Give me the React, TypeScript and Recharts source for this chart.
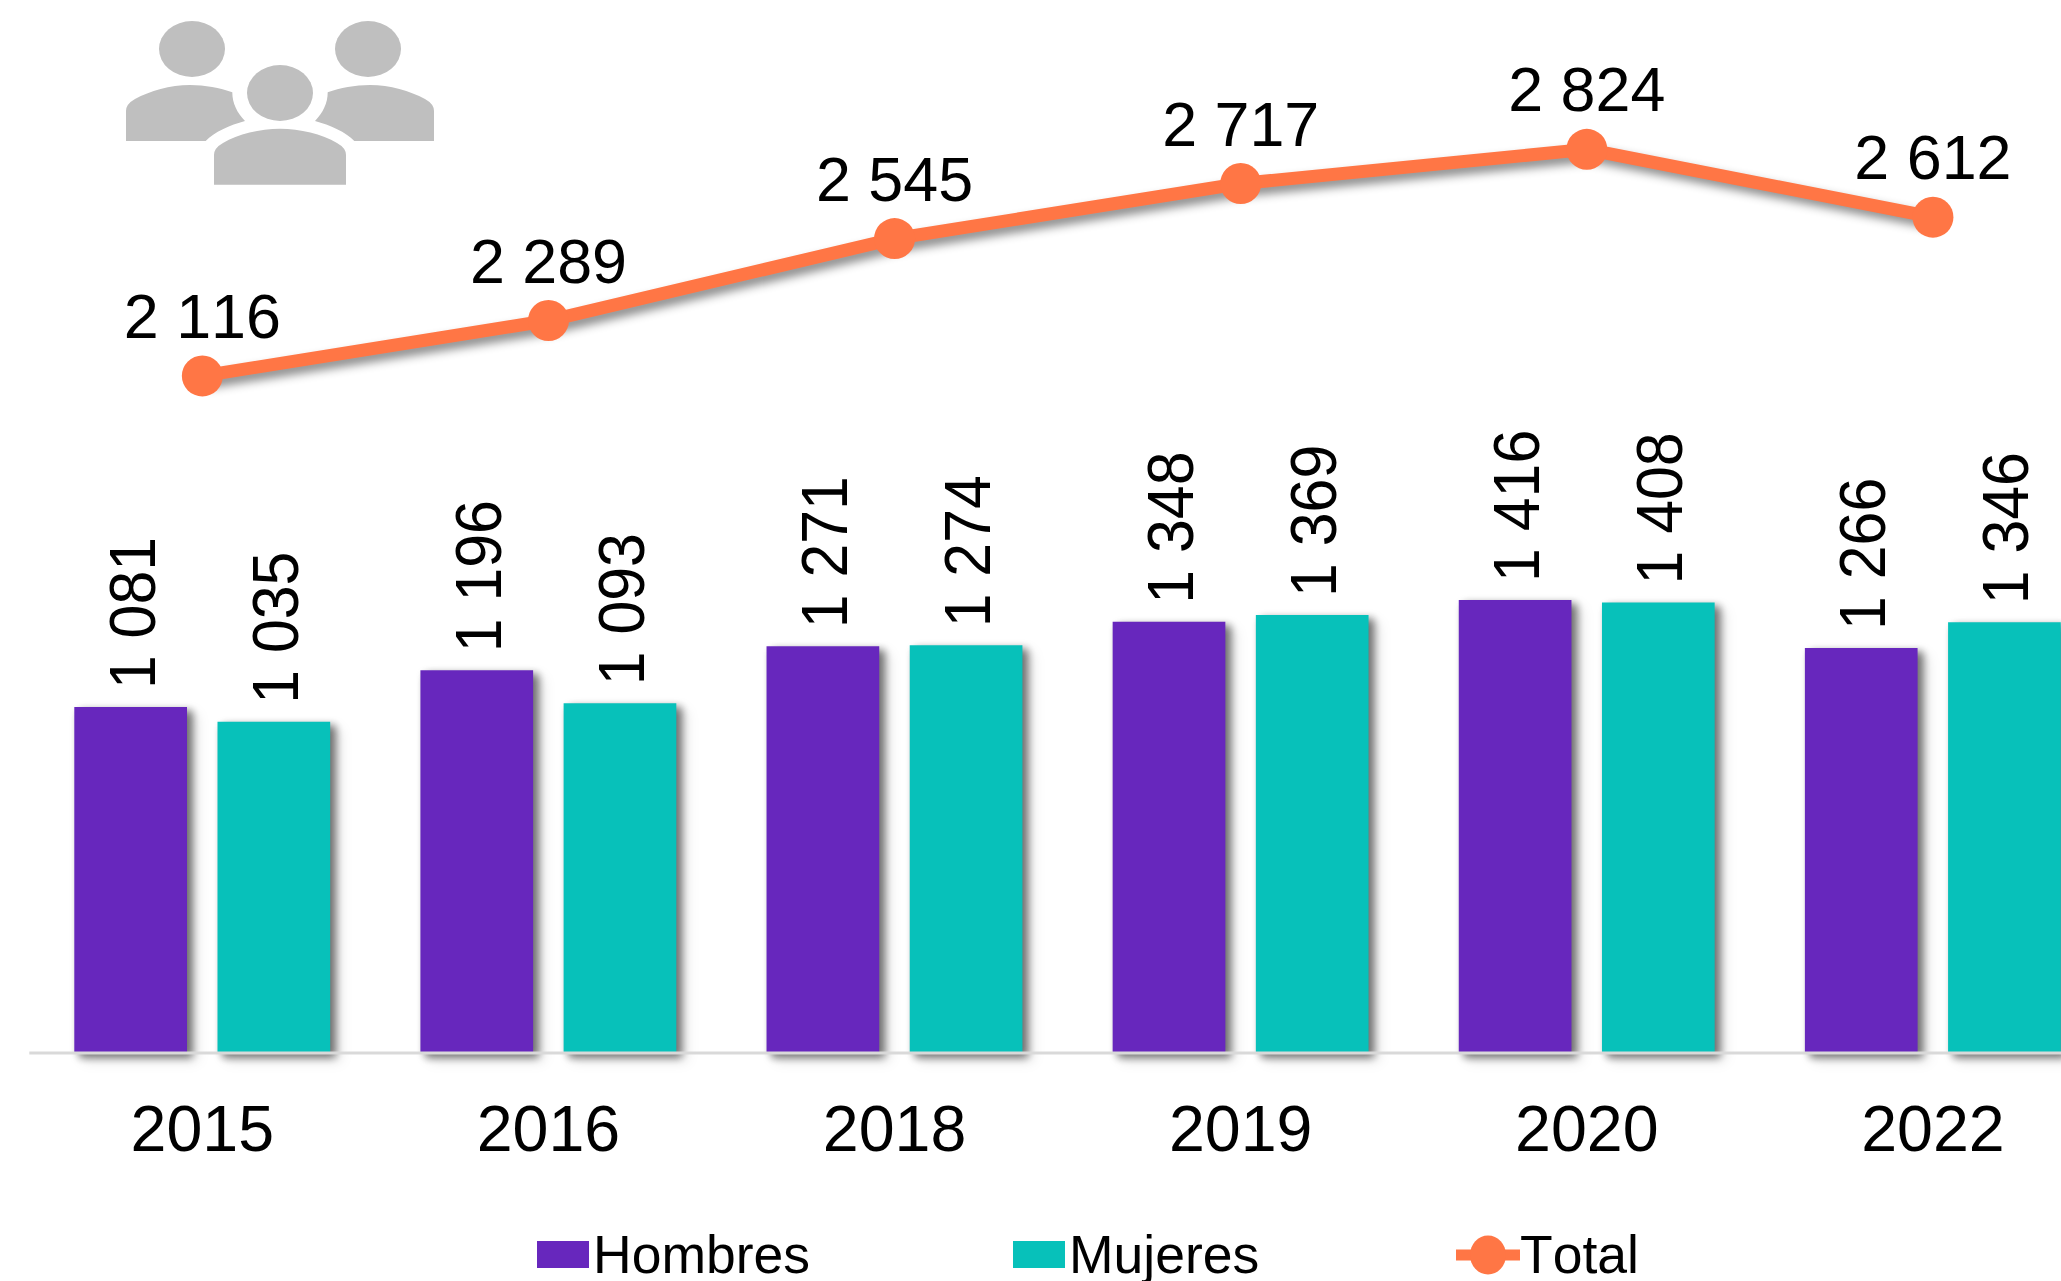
import {
  Bar,
  ComposedChart,
  LabelList,
  Legend,
  Line,
  XAxis,
  YAxis,
} from "recharts";

const years = ["2015", "2016", "2018", "2019", "2020", "2022"];
const hombres = [1081, 1196, 1271, 1348, 1416, 1266];
const mujeres = [1035, 1093, 1274, 1369, 1408, 1346];
const total = [2116, 2289, 2545, 2717, 2824, 2612];

const chartData = years.map((year, i) => ({
  year,
  Hombres: hombres[i],
  Mujeres: mujeres[i],
  Total: total[i],
}));

const FONT = '"Liberation Sans", Arial, sans-serif';
const PURPLE = "#6727BD";
const TEAL = "#07C1BA";
const ORANGE = "#FF7645";
const legendLefts = [537, 1013, 1456];

const fmt = (v: number) => String(v).replace(/\B(?=(\d{3})+$)/g, " ");

function BarValue({ x, y, width, value }: any) {
  const bx = x + width / 2 + 24;
  const by = y - 18;
  return (
    <text
      transform={`translate(${bx},${by}) rotate(-90) scale(0.95,1)`}
      fontFamily={FONT}
      fontSize={64}
      fill="#000"
    >
      {fmt(value)}
    </text>
  );
}

function LineValue({ x, y, value }: any) {
  return (
    <text x={x} y={y - 38} textAnchor="middle" fontFamily={FONT} fontSize={62.8} fill="#000">
      {fmt(value)}
    </text>
  );
}

function LegendContent({ payload }: any) {
  return (
    <div style={{ position: "relative", width: 2061, height: 53, fontFamily: FONT, fontSize: 53.5, color: "#000" }}>
      {(payload || []).map((item: any, i: number) => (
        <div
          key={item.value}
          style={{ position: "absolute", left: legendLefts[i], top: 0, height: 53, display: "flex", alignItems: "center", lineHeight: "53px" }}
        >
          {item.value === "Total" ? (
            <svg width={64} height={40} style={{ display: "block" }}>
              <rect x={0} y={14.5} width={64} height={11} fill={item.color} />
              <ellipse cx={32} cy={20} rx={18} ry={19.5} fill={item.color} />
            </svg>
          ) : (
            <svg width={56} height={27} style={{ display: "block" }}>
              <rect x={0} y={0} width={52} height={27} fill={item.color} />
            </svg>
          )}
          <span>{item.value}</span>
        </div>
      ))}
    </div>
  );
}

function PeopleIcon() {
  return (
    <svg width={460} height={200} style={{ position: "absolute", left: 0, top: 0 }}>
      <g fill="#BFBFBF">
        <ellipse cx={192} cy={49} rx={33} ry={28} />
        <ellipse cx={368} cy={49} rx={33} ry={28} />
        <ellipse cx={280} cy={93} rx={33} ry={28} />
        <path d="M126,141 L126,111 Q126,104 135,99 C150,91 170,85 190,85 C205,85 220,88 232.3,92.3 C232.3,103 237,113 245,121 C230,125 214,132 205.7,141 Z" />
        <path d="M434,141 L434,111 Q434,104 425,99 C410,91 390,85 370,85 C355,85 340,88 327.7,92.3 C327.7,103 323,113 315,121 C330,125 346,132 354.3,141 Z" />
        <path d="M214,184.7 L214,155 Q214,148 223,143 C238,134 260,128.7 280,128.7 C300,128.7 322,134 337,143 Q346,148 346,155 L346,184.7 Z" />
      </g>
    </svg>
  );
}

export default function App() {
  return (
    <div
      style={{ position: "absolute", left: 0, top: 0, width: 2061, height: 1281, overflow: "hidden", background: "#fff", fontKerning: "none" }}
    >
      <style>{`
        .bar-shadow { filter: drop-shadow(5px 4px 4px rgba(0,0,0,0.35)); }
        .line-shadow { filter: drop-shadow(5px 6px 5px rgba(0,0,0,0.45)); }
      `}</style>
      <ComposedChart
        width={2106}
        height={1281}
        data={chartData}
        margin={{ top: 93, right: 0, bottom: 128, left: 29.3 }}
        barGap={30.5}
      >
        <XAxis
          dataKey="year"
          tickLine={false}
          axisLine={{ stroke: "#D9D9D9", strokeWidth: 3 }}
          tick={{ fontSize: 64.5, fontFamily: FONT, fill: "#000" }}
          tickMargin={46}
          interval={0}
          height={100}
        />
        <YAxis hide domain={[0, 3000]} />
        <Bar dataKey="Hombres" fill={PURPLE} barSize={112.7} isAnimationActive={false} className="bar-shadow">
          <LabelList dataKey="Hombres" content={BarValue} />
        </Bar>
        <Bar dataKey="Mujeres" fill={TEAL} barSize={112.7} isAnimationActive={false} className="bar-shadow">
          <LabelList dataKey="Mujeres" content={BarValue} />
        </Bar>
        <Line
          dataKey="Total"
          stroke={ORANGE}
          strokeWidth={13}
          dot={{ r: 20.5, fill: ORANGE, stroke: "none" }}
          isAnimationActive={false}
          className="line-shadow"
        >
          <LabelList dataKey="Total" content={LineValue} />
        </Line>
        <Legend
          layout="vertical"
          align="center"
          verticalAlign="middle"
          content={LegendContent}
          wrapperStyle={{ left: 0, top: 1228, width: 2061, height: 53 }}
        />
      </ComposedChart>
      <PeopleIcon />
    </div>
  );
}
